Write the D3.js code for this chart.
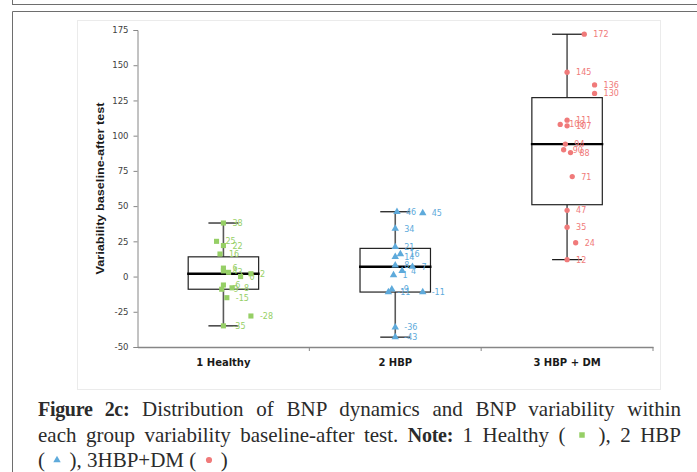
<!DOCTYPE html>
<html>
<head>
<meta charset="utf-8">
<script src="https://cdn.jsdelivr.net/npm/d3@7"></script>
<style>
  body { margin: 0; background: #fff; }
  #wrap { position: relative; width: 697px; height: 472px; overflow: hidden; }
  #chart { position: absolute; left: 0; top: 0; }
  #caption {
    position: absolute; left: 38px; top: 397px; width: 643px;
    font-family: "Liberation Serif", "DejaVu Serif", serif;
    font-size: 21px; line-height: 25.5px; color: #2b2b2b;
  }
  #caption div { text-align: justify; text-align-last: justify; white-space: nowrap; }
  #caption div.last { text-align-last: left; }
  #caption b { font-weight: bold; font-size: 20px; letter-spacing: -0.3px; }
  .mk { display: inline-block; vertical-align: middle; width: 14px; height: 10px; position: relative; top: -2px; }
  .mk svg { display: block; margin: 0 auto; }
</style>
</head>
<body>
<div id="wrap">
  <svg id="chart" width="697" height="472"></svg>
  <div id="caption">
    <div><b>Figure 2c:</b> Distribution of BNP dynamics and BNP variability within</div>
    <div>each group variability baseline-after test. <b>Note:</b> 1 Healthy ( <span class="mk" id="mk-sq"></span> ), 2 HBP</div>
    <div class="last">( <span class="mk" id="mk-tri"></span> ), 3HBP+DM ( <span class="mk" id="mk-dot"></span> )</div>
  </div>
</div>
<script>
// categories and y ticks
const categories = ["1 Healthy", "2 HBP", "3 HBP + DM"];
const yTicks = [-50, -25, 0, 25, 50, 75, 100, 125, 150, 175];

// individual points per group (value) and horizontal jitter (fraction of band)
const healthyValues = [38, 25, 22, 16, 6, 4, 3, 0, 2, -6, -9, -8, -15, -28, -35];
const healthyJitter = [0, -0.04, 0, -0.02, 0, 0, 0.03, 0.1, 0.16, 0, -0.01, 0.05, 0.02, 0.16, 0];
const hbpValues = [46, 45, 34, 21, 16, 14, 8, 7, 4, 1, -9, -11, -11, -36, -43];
const hbpJitter = [0.01, 0.16, 0, 0, 0.03, 0, 0, 0.1, 0.04, -0.01, -0.02, -0.04, 0.16, 0, 0];
const dmValues = [172, 145, 136, 130, 111, 108, 107, 94, 90, 88, 71, 47, 35, 24, 12];
const dmJitter = [0.1, 0, 0.16, 0.16, 0, -0.04, 0, -0.01, -0.02, 0.02, 0.03, 0, 0, 0.05, 0];

// box statistics
const boxMin = [-35, -43, 12];
const boxQ1 = [-9, -11, 51];
const boxMedian = [2, 7, 94];
const boxQ3 = [14, 20, 127];
const boxMax = [38, 46, 172];

const colors = ["#96cf66", "#5eaadb", "#f07a7a"];
const groups = [
  { values: healthyValues, jitter: healthyJitter, shape: d3.symbolSquare, size: 26 },
  { values: hbpValues, jitter: hbpJitter, shape: d3.symbolTriangle, size: 24 },
  { values: dmValues, jitter: dmJitter, shape: d3.symbolCircle, size: 22 }
];

const svg = d3.select("#chart");

// frames
svg.append("line").attr("x1", 12).attr("x2", 697).attr("y1", 4.5).attr("y2", 4.5)
  .attr("stroke", "#6e6e6e");
svg.append("line").attr("x1", 12.5).attr("x2", 12.5).attr("y1", 0).attr("y2", 4.5)
  .attr("stroke", "#6e6e6e");
svg.append("path").attr("d", "M697,11.5H12.5V472").attr("fill", "none").attr("stroke", "#6e6e6e");
svg.append("rect").attr("x", 77.5).attr("y", 20.5).attr("width", 583).attr("height", 369)
  .attr("fill", "none").attr("stroke", "#ebebeb");

// scales
const x = d3.scaleBand().domain(categories).range([137.5, 653]).padding(0);
const y = d3.scaleLinear().domain([-50, 175]).range([347, 30]);
const bw = x.bandwidth();
const boxW = bw * 0.41;
const capW = 15;

// y axis
const yAxis = svg.append("g").attr("transform", "translate(137.5,0)")
  .call(d3.axisLeft(y).tickValues(yTicks).tickFormat(d => String(d)).tickSize(4).tickPadding(5));
yAxis.select(".domain").attr("stroke", "#868686");
yAxis.selectAll(".tick line").attr("stroke", "#868686");
yAxis.selectAll(".tick text").attr("fill", "#404040")
  .style("font-family", "DejaVu Sans, sans-serif").style("font-size", "8.5px");

// x axis
const xAxis = svg.append("g").attr("transform", "translate(0,347)")
  .call(d3.axisBottom(x).tickSize(0).tickPadding(12));
xAxis.select(".domain").attr("stroke", "#868686").attr("stroke-width", 1.3);
xAxis.selectAll(".tick text").attr("fill", "#1a1a1a")
  .style("font-family", "DejaVu Sans, sans-serif").style("font-size", "10px")
  .style("font-weight", "bold");
xAxis.selectAll(".sep").data(categories).enter().append("line")
  .attr("class", "sep")
  .attr("x1", d => x(d) + bw).attr("x2", d => x(d) + bw)
  .attr("y1", 0).attr("y2", 4).attr("stroke", "#868686");

// y axis title
svg.append("text")
  .attr("transform", "translate(104," + y(62.5) + ") rotate(-90)")
  .attr("text-anchor", "middle")
  .attr("textLength", 172).attr("lengthAdjust", "spacingAndGlyphs")
  .style("font-family", "Liberation Sans, Arial, sans-serif")
  .style("font-size", "11px").style("font-weight", "bold").attr("fill", "#1a1a1a")
  .text("Variability baseline-after test");

// boxes
const boxes = svg.append("g");
categories.forEach((c, i) => {
  const cx = x(c) + bw / 2;
  const g = boxes.append("g");
  // whiskers
  g.append("line").attr("x1", cx).attr("x2", cx).attr("y1", y(boxMax[i])).attr("y2", y(boxQ3[i]))
    .attr("stroke", "#5a5a5a").attr("stroke-width", 1.6);
  g.append("line").attr("x1", cx).attr("x2", cx).attr("y1", y(boxQ1[i])).attr("y2", y(boxMin[i]))
    .attr("stroke", "#5a5a5a").attr("stroke-width", 1.6);
  g.append("line").attr("x1", cx - capW).attr("x2", cx + capW).attr("y1", y(boxMax[i])).attr("y2", y(boxMax[i]))
    .attr("stroke", "#111").attr("stroke-width", 1.2);
  g.append("line").attr("x1", cx - capW).attr("x2", cx + capW).attr("y1", y(boxMin[i])).attr("y2", y(boxMin[i]))
    .attr("stroke", "#111").attr("stroke-width", 1.2);
  // box
  g.append("rect").attr("x", cx - boxW / 2).attr("width", boxW)
    .attr("y", y(boxQ3[i])).attr("height", y(boxQ1[i]) - y(boxQ3[i]))
    .attr("fill", "none").attr("stroke", "#222").attr("stroke-width", 1.2);
  g.append("line").attr("x1", cx - boxW / 2 - 1).attr("x2", cx + boxW / 2 + 1)
    .attr("y1", y(boxMedian[i])).attr("y2", y(boxMedian[i]))
    .attr("stroke", "#000").attr("stroke-width", 2.4);
});

// points and labels
const pts = svg.append("g");
groups.forEach((grp, i) => {
  const cx = x(categories[i]) + bw / 2;
  const sym = d3.symbol().type(grp.shape).size(grp.size);
  const rows = grp.values.map((v, k) => ({ v: v, px: cx + grp.jitter[k] * bw }));
  pts.selectAll(".p" + i).data(rows).enter().append("path")
    .attr("class", "p" + i)
    .attr("transform", d => "translate(" + d.px + "," + y(d.v) + ")")
    .attr("d", sym).attr("fill", colors[i]);
  pts.selectAll(".l" + i).data(rows).enter().append("text")
    .attr("class", "l" + i)
    .attr("x", d => d.px + 9).attr("y", d => y(d.v) + 3)
    .attr("fill", colors[i])
    .style("font-family", "DejaVu Sans, sans-serif").style("font-size", "8px")
    .text(d => d.v);
});

// caption markers
function marker(id, shape, size, color) {
  const m = d3.select(id).append("svg").attr("width", 10).attr("height", 10);
  m.append("path").attr("transform", "translate(5,5)")
    .attr("d", d3.symbol().type(shape).size(size)).attr("fill", color);
}
marker("#mk-sq", d3.symbolSquare, 30, colors[0]);
marker("#mk-tri", d3.symbolTriangle, 24, colors[1]);
marker("#mk-dot", d3.symbolCircle, 30, colors[2]);
</script>
</body>
</html>
